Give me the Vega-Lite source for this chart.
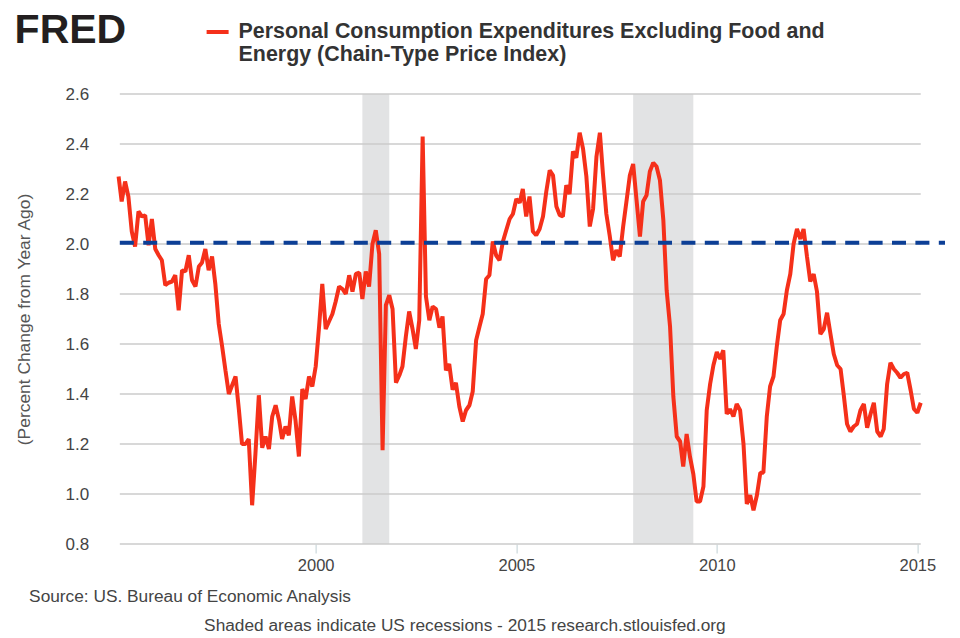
{"$schema":"https://vega.github.io/schema/vega-lite/v6.json","width":826.4,"height":450,"autosize":{"type":"none"},"padding":{"left":118.6,"top":94,"right":15,"bottom":94},"background":"white","config":{"view":{"stroke":null},"font":"Liberation Sans"},"title":{"text":"FRED","orient":"top","anchor":"start","frame":"group","dx":-104,"dy":33,"offset":0,"font":"Liberation Sans","fontSize":41,"fontWeight":"bold","color":"#231f20"},"datasets":{"pce":[{"date":"1995-02-01","v":2.27},{"date":"1995-03-01","v":2.17},{"date":"1995-04-01","v":2.25},{"date":"1995-05-01","v":2.19},{"date":"1995-06-01","v":2.05},{"date":"1995-07-01","v":1.99},{"date":"1995-08-01","v":2.13},{"date":"1995-09-01","v":2.11},{"date":"1995-10-01","v":2.115},{"date":"1995-11-01","v":1.995},{"date":"1995-12-01","v":2.1},{"date":"1996-01-01","v":1.98},{"date":"1996-02-01","v":1.955},{"date":"1996-03-01","v":1.935},{"date":"1996-04-01","v":1.835},{"date":"1996-05-01","v":1.845},{"date":"1996-06-01","v":1.85},{"date":"1996-07-01","v":1.875},{"date":"1996-08-01","v":1.735},{"date":"1996-09-01","v":1.895},{"date":"1996-10-01","v":1.89},{"date":"1996-11-01","v":1.955},{"date":"1996-12-01","v":1.855},{"date":"1997-01-01","v":1.83},{"date":"1997-02-01","v":1.91},{"date":"1997-03-01","v":1.925},{"date":"1997-04-01","v":1.98},{"date":"1997-05-01","v":1.895},{"date":"1997-06-01","v":1.95},{"date":"1997-07-01","v":1.84},{"date":"1997-08-01","v":1.68},{"date":"1997-09-01","v":1.59},{"date":"1997-10-01","v":1.495},{"date":"1997-11-01","v":1.4},{"date":"1997-12-01","v":1.435},{"date":"1998-01-01","v":1.47},{"date":"1998-02-01","v":1.335},{"date":"1998-03-01","v":1.2},{"date":"1998-04-01","v":1.2},{"date":"1998-05-01","v":1.22},{"date":"1998-06-01","v":0.955},{"date":"1998-07-01","v":1.16},{"date":"1998-08-01","v":1.395},{"date":"1998-09-01","v":1.185},{"date":"1998-10-01","v":1.23},{"date":"1998-11-01","v":1.18},{"date":"1998-12-01","v":1.31},{"date":"1999-01-01","v":1.355},{"date":"1999-02-01","v":1.295},{"date":"1999-03-01","v":1.22},{"date":"1999-04-01","v":1.27},{"date":"1999-05-01","v":1.235},{"date":"1999-06-01","v":1.39},{"date":"1999-07-01","v":1.295},{"date":"1999-08-01","v":1.15},{"date":"1999-09-01","v":1.42},{"date":"1999-10-01","v":1.38},{"date":"1999-11-01","v":1.47},{"date":"1999-12-01","v":1.43},{"date":"2000-01-01","v":1.51},{"date":"2000-02-01","v":1.67},{"date":"2000-03-01","v":1.84},{"date":"2000-04-01","v":1.66},{"date":"2000-05-01","v":1.69},{"date":"2000-06-01","v":1.72},{"date":"2000-07-01","v":1.77},{"date":"2000-08-01","v":1.83},{"date":"2000-09-01","v":1.82},{"date":"2000-10-01","v":1.8},{"date":"2000-11-01","v":1.875},{"date":"2000-12-01","v":1.81},{"date":"2001-01-01","v":1.88},{"date":"2001-02-01","v":1.885},{"date":"2001-03-01","v":1.78},{"date":"2001-04-01","v":1.89},{"date":"2001-05-01","v":1.83},{"date":"2001-06-01","v":2.0},{"date":"2001-07-01","v":2.055},{"date":"2001-08-01","v":1.96},{"date":"2001-09-01","v":1.175},{"date":"2001-10-01","v":1.755},{"date":"2001-11-01","v":1.795},{"date":"2001-12-01","v":1.74},{"date":"2002-01-01","v":1.445},{"date":"2002-02-01","v":1.475},{"date":"2002-03-01","v":1.51},{"date":"2002-04-01","v":1.63},{"date":"2002-05-01","v":1.73},{"date":"2002-06-01","v":1.66},{"date":"2002-07-01","v":1.58},{"date":"2002-08-01","v":1.695},{"date":"2002-09-01","v":2.43},{"date":"2002-10-01","v":1.79},{"date":"2002-11-01","v":1.695},{"date":"2002-12-01","v":1.75},{"date":"2003-01-01","v":1.74},{"date":"2003-02-01","v":1.665},{"date":"2003-03-01","v":1.71},{"date":"2003-04-01","v":1.495},{"date":"2003-05-01","v":1.52},{"date":"2003-06-01","v":1.417},{"date":"2003-07-01","v":1.445},{"date":"2003-08-01","v":1.35},{"date":"2003-09-01","v":1.29},{"date":"2003-10-01","v":1.335},{"date":"2003-11-01","v":1.355},{"date":"2003-12-01","v":1.41},{"date":"2004-01-01","v":1.615},{"date":"2004-02-01","v":1.67},{"date":"2004-03-01","v":1.72},{"date":"2004-04-01","v":1.86},{"date":"2004-05-01","v":1.875},{"date":"2004-06-01","v":2.01},{"date":"2004-07-01","v":1.955},{"date":"2004-08-01","v":1.935},{"date":"2004-09-01","v":2.01},{"date":"2004-10-01","v":2.055},{"date":"2004-11-01","v":2.1},{"date":"2004-12-01","v":2.12},{"date":"2005-01-01","v":2.18},{"date":"2005-02-01","v":2.165},{"date":"2005-03-01","v":2.22},{"date":"2005-04-01","v":2.11},{"date":"2005-05-01","v":2.19},{"date":"2005-06-01","v":2.05},{"date":"2005-07-01","v":2.035},{"date":"2005-08-01","v":2.06},{"date":"2005-09-01","v":2.11},{"date":"2005-10-01","v":2.21},{"date":"2005-11-01","v":2.295},{"date":"2005-12-01","v":2.275},{"date":"2006-01-01","v":2.15},{"date":"2006-02-01","v":2.115},{"date":"2006-03-01","v":2.11},{"date":"2006-04-01","v":2.235},{"date":"2006-05-01","v":2.2},{"date":"2006-06-01","v":2.37},{"date":"2006-07-01","v":2.345},{"date":"2006-08-01","v":2.445},{"date":"2006-09-01","v":2.38},{"date":"2006-10-01","v":2.27},{"date":"2006-11-01","v":2.07},{"date":"2006-12-01","v":2.14},{"date":"2007-01-01","v":2.35},{"date":"2007-02-01","v":2.445},{"date":"2007-03-01","v":2.28},{"date":"2007-04-01","v":2.12},{"date":"2007-05-01","v":2.035},{"date":"2007-06-01","v":1.935},{"date":"2007-07-01","v":1.975},{"date":"2007-08-01","v":1.95},{"date":"2007-09-01","v":2.07},{"date":"2007-10-01","v":2.17},{"date":"2007-11-01","v":2.275},{"date":"2007-12-01","v":2.32},{"date":"2008-01-01","v":2.175},{"date":"2008-02-01","v":2.03},{"date":"2008-03-01","v":2.17},{"date":"2008-04-01","v":2.195},{"date":"2008-05-01","v":2.29},{"date":"2008-06-01","v":2.325},{"date":"2008-07-01","v":2.31},{"date":"2008-08-01","v":2.255},{"date":"2008-09-01","v":2.095},{"date":"2008-10-01","v":1.815},{"date":"2008-11-01","v":1.67},{"date":"2008-12-01","v":1.39},{"date":"2009-01-01","v":1.23},{"date":"2009-02-01","v":1.21},{"date":"2009-03-01","v":1.11},{"date":"2009-04-01","v":1.24},{"date":"2009-05-01","v":1.15},{"date":"2009-06-01","v":1.08},{"date":"2009-07-01","v":0.97},{"date":"2009-08-01","v":0.97},{"date":"2009-09-01","v":1.03},{"date":"2009-10-01","v":1.335},{"date":"2009-11-01","v":1.44},{"date":"2009-12-01","v":1.515},{"date":"2010-01-01","v":1.568},{"date":"2010-02-01","v":1.54},{"date":"2010-03-01","v":1.575},{"date":"2010-04-01","v":1.32},{"date":"2010-05-01","v":1.34},{"date":"2010-06-01","v":1.31},{"date":"2010-07-01","v":1.36},{"date":"2010-08-01","v":1.335},{"date":"2010-09-01","v":1.2},{"date":"2010-10-01","v":0.96},{"date":"2010-11-01","v":0.995},{"date":"2010-12-01","v":0.935},{"date":"2011-01-01","v":0.995},{"date":"2011-02-01","v":1.085},{"date":"2011-03-01","v":1.085},{"date":"2011-04-01","v":1.31},{"date":"2011-05-01","v":1.43},{"date":"2011-06-01","v":1.47},{"date":"2011-07-01","v":1.59},{"date":"2011-08-01","v":1.695},{"date":"2011-09-01","v":1.72},{"date":"2011-10-01","v":1.815},{"date":"2011-11-01","v":1.88},{"date":"2011-12-01","v":2.0},{"date":"2012-01-01","v":2.06},{"date":"2012-02-01","v":2.02},{"date":"2012-03-01","v":2.06},{"date":"2012-04-01","v":1.95},{"date":"2012-05-01","v":1.85},{"date":"2012-06-01","v":1.88},{"date":"2012-07-01","v":1.81},{"date":"2012-08-01","v":1.64},{"date":"2012-09-01","v":1.66},{"date":"2012-10-01","v":1.725},{"date":"2012-11-01","v":1.64},{"date":"2012-12-01","v":1.56},{"date":"2013-01-01","v":1.515},{"date":"2013-02-01","v":1.5},{"date":"2013-03-01","v":1.4},{"date":"2013-04-01","v":1.28},{"date":"2013-05-01","v":1.25},{"date":"2013-06-01","v":1.27},{"date":"2013-07-01","v":1.28},{"date":"2013-08-01","v":1.335},{"date":"2013-09-01","v":1.36},{"date":"2013-10-01","v":1.265},{"date":"2013-11-01","v":1.32},{"date":"2013-12-01","v":1.365},{"date":"2014-01-01","v":1.25},{"date":"2014-02-01","v":1.23},{"date":"2014-03-01","v":1.26},{"date":"2014-04-01","v":1.44},{"date":"2014-05-01","v":1.525},{"date":"2014-06-01","v":1.5},{"date":"2014-07-01","v":1.485},{"date":"2014-08-01","v":1.465},{"date":"2014-09-01","v":1.48},{"date":"2014-10-01","v":1.485},{"date":"2014-11-01","v":1.415},{"date":"2014-12-01","v":1.34},{"date":"2015-01-01","v":1.325},{"date":"2015-02-01","v":1.365}],"recessions":[{"start":"2001-03-01","end":"2001-11-01"},{"start":"2007-12-01","end":"2009-06-01"}],"grid":[{"y":0.8,"from":"1995-02-12","to":"2015-02-01"},{"y":1.0,"from":"1995-02-12","to":"2015-02-01"},{"y":1.2,"from":"1995-02-12","to":"2015-02-01"},{"y":1.4,"from":"1995-02-12","to":"2015-02-01"},{"y":1.6,"from":"1995-02-12","to":"2015-02-01"},{"y":1.8,"from":"1995-02-12","to":"2015-02-01"},{"y":2.0,"from":"1995-02-12","to":"2015-02-01"},{"y":2.2,"from":"1995-02-12","to":"2015-02-01"},{"y":2.4,"from":"1995-02-12","to":"2015-02-01"},{"y":2.6,"from":"1995-02-12","to":"2015-02-01"}],"target":[{"y":2.005,"from":"1995-02-12","to":"2015-09-10"}]},"resolve":{"axis":{"x":"independent"}},"layer":[{"data":{"name":"recessions"},"mark":{"type":"rect","color":"#e2e3e4"},"encoding":{"x":{"field":"start","type":"temporal","scale":{"type":"utc","domain":["1995-02-01","2015-09-10"]},"axis":{"orient":"bottom","values":["2000-01-01"],"labels":false,"ticks":false,"domain":false,"grid":false,"title":"Shaded areas indicate US recessions - 2015 research.stlouisfed.org","titleX":85,"titleY":86,"titleBaseline":"alphabetic","titleAnchor":"start","titleAlign":"left","titleFont":"Liberation Sans","titleFontSize":17.3,"titleFontWeight":"normal","titleColor":"#444"}},"x2":{"field":"end"}}},{"data":{"name":"grid"},"mark":{"type":"rule","color":"#cbcbcb","strokeWidth":1.5},"encoding":{"y":{"field":"y","type":"quantitative","scale":{"domain":[0.8,2.6],"nice":false},"axis":{"values":[0.8,1.0,1.2,1.4,1.6,1.8,2.0,2.2,2.4,2.6],"format":".1f","grid":false,"ticks":false,"domain":false,"labelPadding":30,"labelFont":"Liberation Sans","labelFontSize":17,"labelColor":"#444","title":"(Percent Change from Year Ago)","titleFont":"Liberation Sans","titleFontSize":17.4,"titleFontWeight":"normal","titleColor":"#555","titleX":-85,"titleY":225}},"x":{"field":"from","type":"temporal","axis":null},"x2":{"field":"to"}}},{"data":{"name":"pce"},"mark":{"type":"line","strokeWidth":4,"strokeJoin":"bevel","clip":false},"encoding":{"x":{"field":"date","type":"temporal","axis":{"orient":"bottom","values":["2000-01-01","2005-01-01","2010-01-01","2015-01-01"],"format":"%Y","formatType":"utc","grid":false,"domain":false,"ticks":true,"tickSize":9,"tickColor":"#c0cfd3","tickWidth":1,"labelFont":"Liberation Sans","labelFontSize":16.5,"labelColor":"#444","labelPadding":4,"title":"Source: US. Bureau of Economic Analysis","titleX":-90,"titleY":57,"titleBaseline":"alphabetic","titleAnchor":"start","titleAlign":"left","titleFont":"Liberation Sans","titleFontSize":17.3,"titleFontWeight":"normal","titleColor":"#444"}},"y":{"field":"v","type":"quantitative"},"color":{"datum":"Personal Consumption Expenditures Excluding Food and|Energy (Chain-Type Price Index)","scale":{"range":["#f5301a"]},"legend":{"orient":"none","legendX":86,"legendY":-75,"title":null,"symbolType":"stroke","symbolSize":484,"symbolStrokeWidth":4,"labelExpr":"split(datum.label,'|')","labelFont":"Liberation Sans","labelFontSize":21.4,"labelFontWeight":"bold","labelColor":"#333","labelLimit":700,"labelOffset":8,"encoding":{"labels":{"enter":{"lineHeight":{"value":26}},"update":{"lineHeight":{"value":26}}}}}}}},{"data":{"name":"target"},"mark":{"type":"rule","color":"#0c3f96","strokeWidth":4,"strokeDash":[14,9.4]},"encoding":{"y":{"field":"y","type":"quantitative"},"x":{"field":"from","type":"temporal","axis":null},"x2":{"field":"to"}}}]}
